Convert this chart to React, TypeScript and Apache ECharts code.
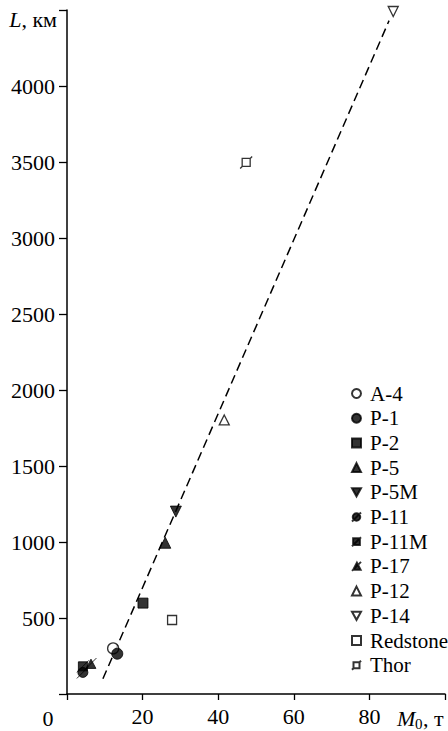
import React, { useEffect, useRef } from 'react';
import * as echarts from 'echarts';

// Data (M0 in tonnes, L in km)
const seriesNames = ['A-4', 'P-1', 'P-2', 'P-5', 'P-5M', 'P-11', 'P-11M', 'P-17', 'P-12', 'P-14', 'Redstone', 'Thor'];
const a4Data = [[12.2, 300]];
const p1Data = [[13.3, 265]];
const p2Data = [[20.1, 598]];
const p5Data = [[26.0, 995]];
const p5mData = [[28.8, 1200]];
const p11Data = [[4.2, 142]];
const p11mData = [[4.2, 182]];
const p17Data = [[6.2, 197]];
const p12Data = [[41.6, 1803]];
const p14Data = [[86.3, 4490]];
const redstoneData = [[27.8, 487]];
const thorData = [[47.4, 3497]];
const trendData = [[9.5, 100], [85.2, 4430]];

const xTicks = [0, 20, 40, 60, 80, 100];
const yTicks = [0, 500, 1000, 1500, 2000, 2500, 3000, 3500, 4000, 4500];

const FONT = 'Liberation Serif';

const SYM_DOWN = 'path://M0,0 L10,0 L5,9 Z';
const SYM_P11 = 'path://M1,6 A5,5 0 1,1 11,6 A5,5 0 1,1 1,6 Z M0,12 L12,0';
const SYM_P11M = 'path://M1.5,1.5 L10.5,1.5 L10.5,10.5 L1.5,10.5 Z M0,12 L12,0';
const SYM_P17 = 'path://M1.5,10.5 L10.5,10.5 L6,2 Z M0,12 L11,1';
const SYM_THOR = 'path://M2,2 L10,2 L10,10 L2,10 Z M0,12 L2,10 M10,2 L12,0';

const solid = { color: '#000', borderColor: '#000', borderWidth: 1 };
const hollow = { color: '#fff', borderColor: '#000', borderWidth: 1.3 };

function sc(name: string, data: number[][], symbol: string, size: number, style: any) {
  return {
    type: 'scatter',
    name,
    data,
    symbol,
    symbolSize: size,
    itemStyle: style,
    z: 3,
  };
}

export default function App() {
  const ref = useRef<HTMLDivElement>(null);
  useEffect(() => {
    if (!ref.current) return;
    const chart = echarts.init(ref.current, undefined, { renderer: 'svg' });
    chart.setOption({
      animation: false,
      backgroundColor: '#fff',
      textStyle: { fontFamily: FONT },
      grid: { left: 67, top: 10, right: 2, bottom: 37, containLabel: false },
      xAxis: {
        type: 'value',
        min: xTicks[0],
        max: xTicks[xTicks.length - 1],
        interval: 20,
        axisLine: { show: true, lineStyle: { color: '#000', width: 1.5 } },
        axisTick: { show: true, length: 6, lineStyle: { color: '#000', width: 1.3 } },
        splitLine: { show: false },
        axisLabel: {
          color: '#000',
          fontFamily: FONT,
          fontSize: 22,
          margin: 11,
          formatter: (v: number) => (v === 0 || v === 100 ? '' : String(v)),
        },
      },
      yAxis: {
        type: 'value',
        min: yTicks[0],
        max: yTicks[yTicks.length - 1],
        interval: 500,
        axisLine: { show: true, lineStyle: { color: '#000', width: 1.5 } },
        axisTick: { show: true, length: 8, lineStyle: { color: '#000', width: 1.3 } },
        splitLine: { show: false },
        axisLabel: {
          color: '#000',
          fontFamily: FONT,
          fontSize: 22,
          margin: 12,
          formatter: (v: number) => (v === 0 || v === 4500 ? '' : String(v)),
        },
      },
      legend: {
        orient: 'vertical',
        left: 351,
        top: 383,
        padding: 0,
        itemWidth: 9,
        itemHeight: 9,
        itemGap: 3.7,
        data: seriesNames,
        textStyle: { color: '#000', fontFamily: FONT, fontSize: 21, lineHeight: 21, padding: [0, 0, 0, 4] },
      },
      graphic: [
        {
          type: 'text',
          right: 448 - 57,
          top: 8,
          style: {
            text: '{i|L}, км',
            fontFamily: FONT,
            fontSize: 22,
            fill: '#000',
            rich: { i: { fontStyle: 'italic', fontFamily: FONT, fontSize: 22 } },
          },
        },
        {
          type: 'text',
          x: 48,
          y: 718,
          style: { text: '0', fontFamily: FONT, fontSize: 22, fill: '#000', align: 'center', verticalAlign: 'middle' },
        },
        {
          type: 'text',
          x: 397,
          y: 718,
          style: { text: 'M', fontFamily: FONT, fontStyle: 'italic', fontSize: 22, fill: '#000', align: 'left', verticalAlign: 'middle' },
        },
        {
          type: 'text',
          x: 415,
          y: 724,
          style: { text: '0', fontFamily: FONT, fontSize: 15, fill: '#000', align: 'left', verticalAlign: 'middle' },
        },
        {
          type: 'text',
          x: 423,
          y: 718,
          style: { text: ', т', fontFamily: FONT, fontSize: 22, fill: '#000', align: 'left', verticalAlign: 'middle' },
        },
      ],
      series: [
        {
          type: 'line',
          name: 'trend',
          data: trendData,
          symbol: 'none',
          silent: true,
          lineStyle: { color: '#000', width: 1.5, type: [9, 5] },
          z: 2,
        },
        sc('A-4', a4Data, 'circle', 11, hollow),
        sc('P-1', p1Data, 'circle', 11, solid),
        sc('P-2', p2Data, 'rect', 10, solid),
        sc('P-5', p5Data, 'triangle', 11, solid),
        sc('P-5M', p5mData, SYM_DOWN, 11, solid),
        sc('P-11', p11Data, SYM_P11, 12, solid),
        sc('P-11M', p11mData, SYM_P11M, 12, solid),
        sc('P-17', p17Data, SYM_P17, 12, solid),
        sc('P-12', p12Data, 'triangle', 10, hollow),
        sc('P-14', p14Data, SYM_DOWN, 10, hollow),
        sc('Redstone', redstoneData, 'rect', 9, hollow),
        sc('Thor', thorData, SYM_THOR, 12, hollow),
      ],
    });
    return () => chart.dispose();
  }, []);
  return (
    <div
      ref={ref}
      style={{ position: 'fixed', left: 0, top: 0, width: 448, height: 731, background: '#fff' }}
    />
  );
}
